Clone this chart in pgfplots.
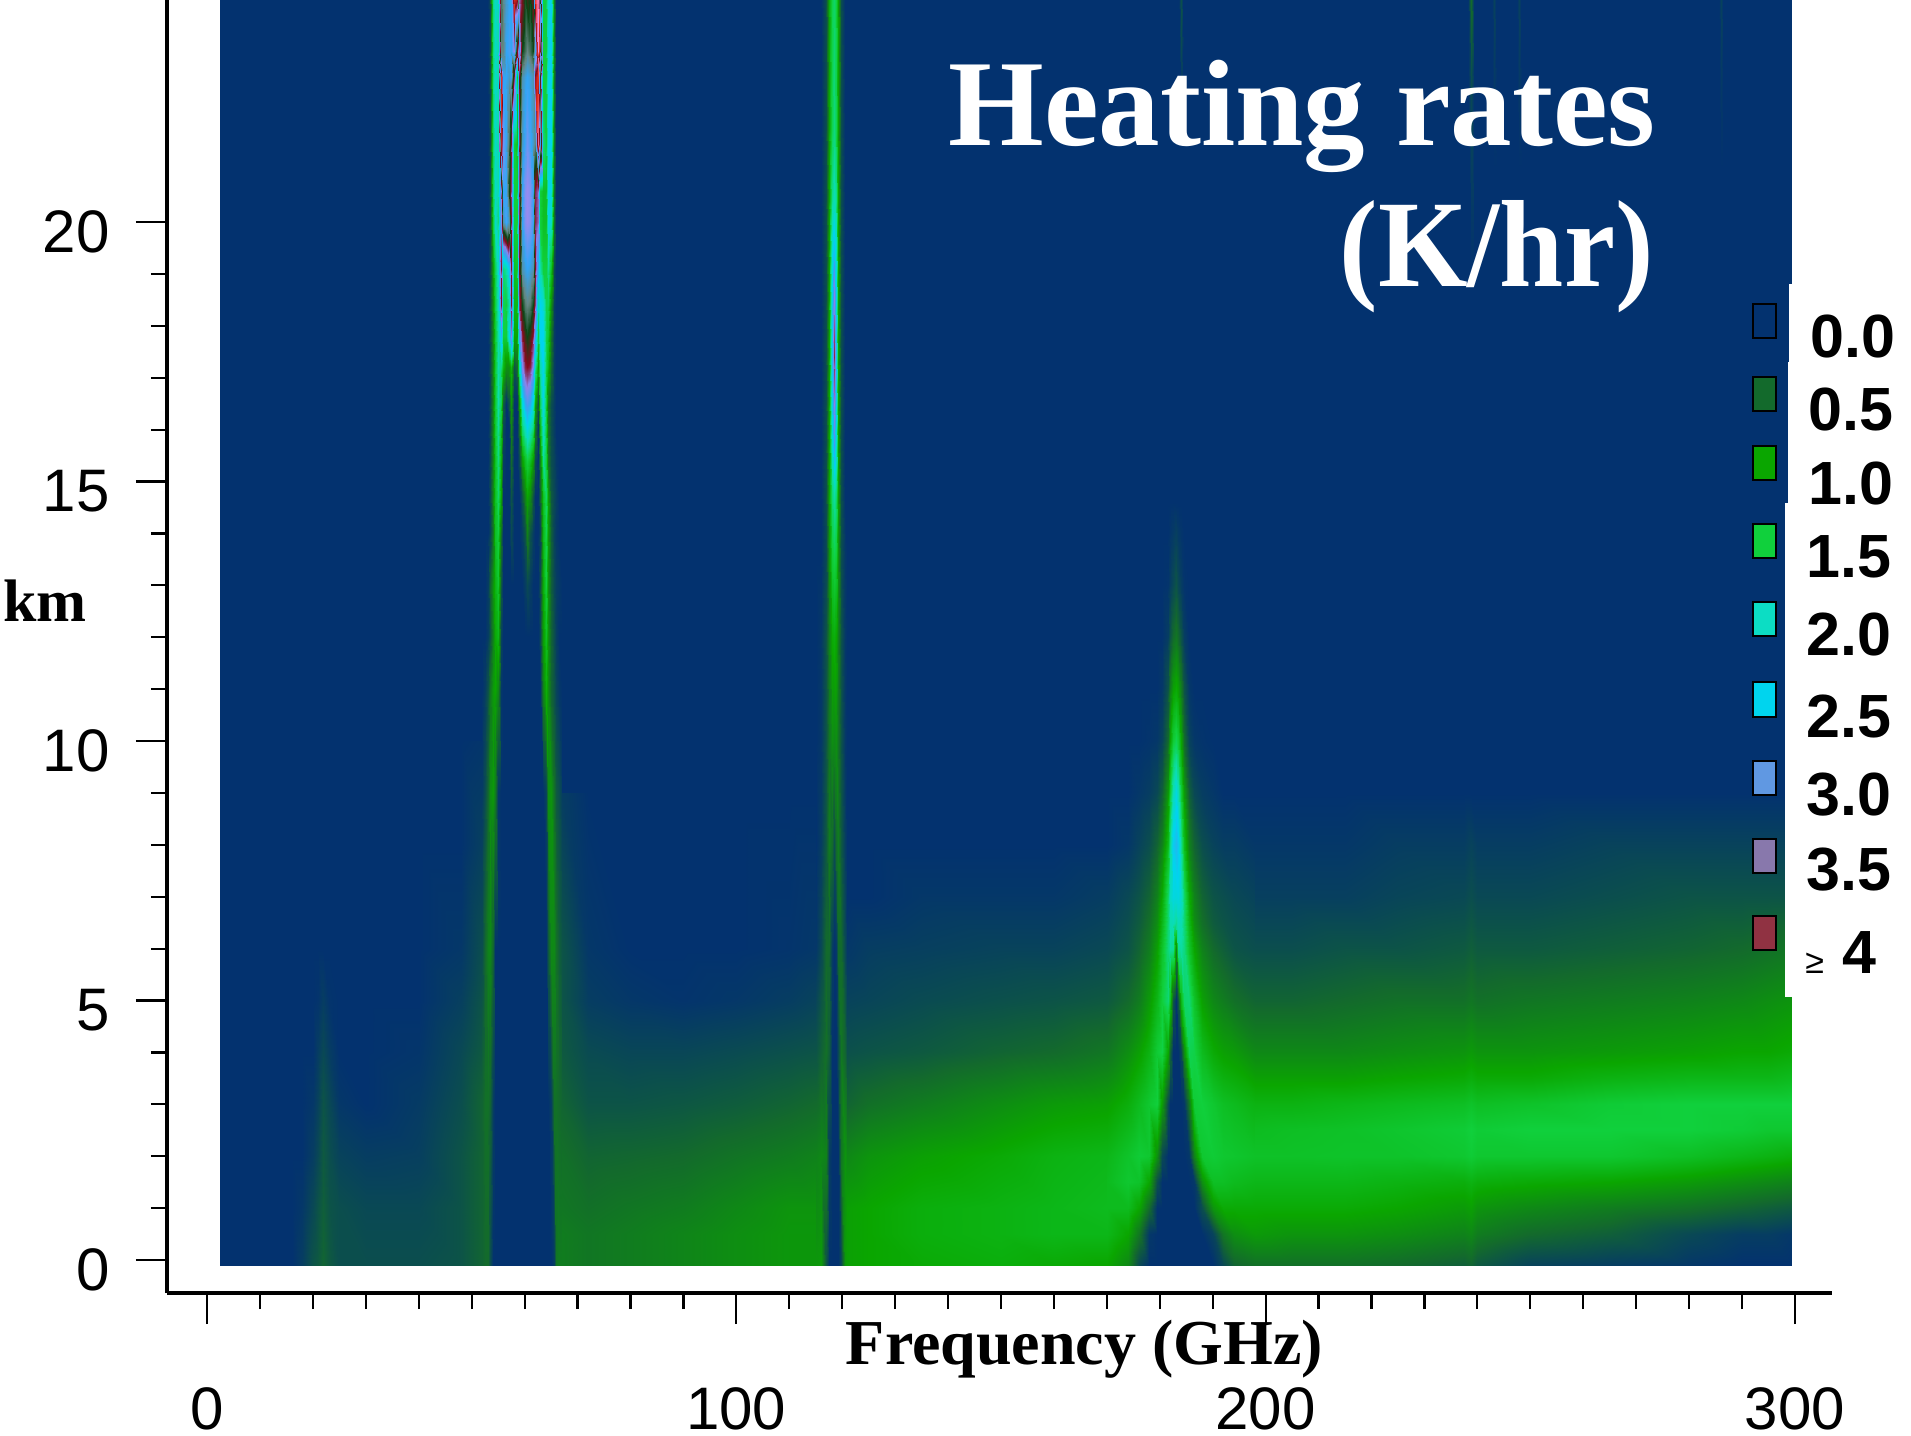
\documentclass[border=0pt]{standalone}
\usepackage{graphicx}
\usepackage{pgfplots}
\pgfplotsset{compat=1.18}
\usepackage{fontspec}
\setmainfont{Liberation Serif}
\newfontfamily\sansf{Liberation Sans}
\definecolor{hbg}{RGB}{3,50,111}
\makeatletter
\newcount\zi \newcount\zj
\def\zend{END}
\def\zapp#1{\g@addto@macro\zbuf{#1\\}}
\def\zadd#1 {\def\ztmp{#1}\ifx\ztmp\zend\else\ifx\ztmp\@empty\else
    \edef\ztmpb{\csname zx\the\zi\endcsname\space\csname zy\the\zj\endcsname\space #1}%
    \expandafter\zapp\expandafter{\ztmpb}%
    \global\advance\zi by 1 \ifnum\zi=\zn\relax\global\zi=0 \global\advance\zj by 1 \fi
  \fi\expandafter\zadd\fi}
\newcommand{\heatdo}[2]{\addplot[surf,shader=interp,mesh/cols=#2,point meta=explicit]
  table[header=false,row sep=crcr,x index=0,y index=1,meta index=2]{#1};}
\newcommand{\heat}[4]{\gdef\zbuf{}\global\zi=0 \global\zj=0 \def\zn{#1}%
  \foreach \v [count=\k from 0] in {#2}{\expandafter\xdef\csname zx\k\endcsname{\v}}%
  \foreach \v [count=\k from 0] in {#3}{\expandafter\xdef\csname zy\k\endcsname{\v}}%
  \zadd#4 END %
  \expandafter\heatdo\expandafter{\zbuf}{#1}}
\makeatother
\begin{document}
\begin{tikzpicture}[x=0.5pt,y=-0.5pt]
\path[use as bounding box] (0,0) rectangle (1911,1435);
\begin{axis}[
  at={(83.5pt,-646.5pt)},anchor=south west,
  scale only axis,width=832.5pt,height=646.5pt,
  xmin=-7.56,xmax=307,ymin=-0.636,ymax=24.28,
  axis x line=bottom,axis y line=left,
  axis line style={-,line width=1.7pt,black},
  tick align=outside,
  major tick length=15.5pt,minor tick length=8pt,
  tick style={line width=1.1pt,black},
  xtick={0,100,200,300},minor x tick num=9,
  ytick={0,5,10,15,20},minor y tick num=4,
  /pgf/number format/assume math mode=true,
  tick label style={font=\sansf\fontsize{30}{30}\selectfont,inner sep=0pt},
  xticklabel style={anchor=base,yshift=-52.5pt},
  yticklabel style={anchor=east,yshift=-5pt,xshift=-13pt},
  xlabel={\bfseries Frequency (GHz)},
  xlabel style={at={(axis description cs:0.551,-0.0549)},anchor=base,font=\fontsize{32}{32}\selectfont,inner sep=0pt},
  ylabel={\bfseries km},
  ylabel style={at={(axis description cs:-0.0733,0.519)},anchor=base,rotate=-90,font=\fontsize{30}{30}\selectfont,inner sep=0pt},
  colormap={hr}{[1pt]
    rgb255(0pt)=(3,50,111) rgb255(5pt)=(19,106,44) rgb255(10pt)=(10,166,0)
    rgb255(15pt)=(16,208,60) rgb255(20pt)=(12,221,170) rgb255(25pt)=(0,212,238)
    rgb255(30pt)=(60,160,240) rgb255(35pt)=(140,130,235) rgb255(40pt)=(135,10,30)
    rgb255(45pt)=(10,70,20) rgb255(50pt)=(100,135,130) rgb255(55pt)=(50,165,245)
    rgb255(60pt)=(150,140,240) rgb255(65pt)=(130,10,30) rgb255(70pt)=(240,50,30)
    rgb255(75pt)=(240,140,220) rgb255(80pt)=(250,230,240)},
  point meta min=0,point meta max=8,
]
% background
\heat{2}{2.5,299.4}{-.1,24.4}{0 0 0 0}
% left field, 2.5-52 GHz
\heat{13}{2.5,14,16,18,20,21,22,23,25,30,40,48,52}{-.1,1,2,3,4,5,6,8,10}{
0 0 0 .1 .3 .35 .45 .35 .25 .25 .25 .3 .45
0 0 0 .05 .2 .3 .4 .3 .25 .2 .2 .3 .45
0 0 0 0 .1 .2 .35 .25 .15 .1 .12 .3 .45
0 0 0 0 .05 .15 .3 .2 .05 0 .08 .25 .45
0 0 0 0 0 .1 .2 .1 0 0 .03 .2 .35
0 0 0 0 0 .02 .1 .02 0 0 0 .12 .3
0 0 0 0 0 0 0 0 0 0 0 .05 .25
0 0 0 0 0 0 0 0 0 0 0 0 .12
0 0 0 0 0 0 0 0 0 0 0 0 .03
}
% 60 GHz band
\heat{31}{52,52.5,53,53.5,54,54.5,55,55.5,56,56.5,57,57.5,58,58.5,59,59.5,60,60.5,61,61.5,62,62.5,63,63.5,64,64.5,65,65.5,66,66.5,67}{-.1,3,6,9,11,12,13,14,14.7,15.4,16,16.5,17.2,17.8,18.4,19.1,20,20.6,21.5,22.8,23.3,24.4}{
.45 .5 .5 .25 0 0 0 0 0 0  0 0 0 0 0 0 0 0 0 0  0 0 0 0 0 0 0 .1 .6 .65 .65
.45 .55 .55 .45 .1 0 0 0 0 0  0 0 0 0 0 0 0 0 0 0  0 0 0 0 0 0 .1 .55 .55 .5 .45
.25 .5 .7 .75 .45 0 0 0 0 0  0 0 0 0 0 0 0 0 0 0  0 0 0 0 0 .35 .75 .75 .55 .4 .3
.08 .25 .5 .8 .9 .65 .05 0 0 0  0 0 0 0 0 0 0 0 0 0  0 0 0 0 .15 .8 .85 .55 .35 .25 .1
0 .1 .3 .6 .9 1 .75 .05 0 0  0 0 0 0 0 0 0 0 0 0  0 0 0 .7 1.1 .8 .45 .3 .15 .05 0
0 0 .1 .3 .7 1.05 1.2 .15 0 0  0 0 0 0 0 0 0 0 0 0  0 0 .15 .9 1.3 .85 .45 .25 .1 0 0
0 0 .1 .45 .85 1.15 1.4 .35 0 0  0 0 0 0 0 0 .1 .2 .1 0  0 0 .25 1.05 1.5 .85 .4 .2 .1 .05 0
0 0 0 .15 .6 1.3 1.5 .55 0 0  0 .2 0 0 0 .1 .3 .7 .3 .1  0 0 .15 1.2 1.6 .95 .4 .15 .05 0 0
0 0 0 .2 .75 1.3 1.7 1 0 0  0 .3 0 0 0 .3 .7 1 .8 .3  0 0 .4 1.3 1.7 1 .35 .2 .1 0 0
0 0 0 .2 .75 1.3 1.8 1.1 .1 0  0 .5 0 0 .2 .9 1.3 1.5 1.3 .9  .2 0 .7 1.9 1.5 .6 .25 .15 .05 0 0
0 0 0 .2 .75 1.4 1.9 1.3 .2 0  0 .7 0 0 .5 1.7 2.1 2.4 2.1 1.7  .6 0 1.2 2.2 1.5 .6 .25 .1 0 0 0
0 0 0 .2 .75 1.4 2 1.6 .4 0  .3 .9 0 0 .9 2.3 2.9 3.1 2.9 2.3  1 .3 1.6 2.4 1.5 .6 .25 .1 0 0 0
0 0 0 .2 .75 1.4 2 1.8 1.2 .8  .8 1.2 .3 .5 2 3.4 3.9 4 3.9 3.4  2 1 2 2.5 1.6 1.2 .5 .1 0 0 0
0 0 0 .2 .75 1.4 2 2.8 1.5 1.5  2.5 3.5 1 1 3 3.9 4.3 4.5 4.3 3.9  3 1.5 2.5 2.5 1.6 1.4 .6 .1 0 0 0
0 0 0 .2 .85 1.5 2.1 4 1.6 1.5  2 4 1.2 1.2 3.8 4.5 4.9 5 4.9 4.5  3.8 2 2.5 2.3 1.6 1.6 .8 .1 0 0 0
0 0 0 .2 1 1.6 2.2 4 1.8 2  2.6 4 1.3 1.4 4 5.2 5.4 5.5 5.4 5.2  4 2.8 2 1.5 1.5 1.9 1.3 .2 0 0 0
0 0 0 .2 1.5 2.2 1.8 3.5 5.2 5.6  5.2 4 1.5 1.5 3.9 5.5 5.9 6 5.9 5.5  3.9 3.6 1.5 1.3 1.3 2.4 2.2 .5 0 0 0
0 0 0 .2 1.6 2.2 2 3.5 5.5 5.5  4.5 3.8 1.5 1.5 3.8 5.5 5.9 6 5.9 5.5  3.9 3.6 1.5 1.3 1.3 2.4 2.4 .5 0 0 0
0 0 0 .2 1.7 2.2 2 6.8 5.8 5.5  4.8 4 1.5 1.3 3.8 5.3 5.6 5.8 5.6 5.3  5 7.3 5.5 1.8 1.5 2.4 2.5 .6 0 0 0
0 0 0 .2 1.8 2.2 2 7 5.5 5.5  5.3 5.5 3.9 1.4 4 5.2 5.4 5.5 5.4 5.2  6.6 7 4.4 1.5 1.5 2.4 2.6 .6 0 0 0
0 0 0 .2 1.8 2.2 2 5 5 5.5  5.6 5.5 6 4 3 4.5 4.8 5 4.8 4.5  5.5 7.5 6.5 1.5 1.5 2.3 2.6 .7 0 0 0
0 0 0 .2 1.8 2.2 2.1 4.8 5 5.3  5.5 5.5 7.2 7 3.5 4 4.5 4.3 4.5 4  7 7.5 5 1.5 1.5 2.2 2.6 .7 0 0 0
}
% field 67-115 GHz
\heat{7}{67,72,80,90,100,110,115}{-.1,.5,1,2,3,4,5,6,9}{
.65 .6 .65 .72 .8 .87 .87
.65 .6 .65 .72 .8 .87 .87
.6 .55 .6 .65 .75 .85 .85
.55 .45 .47 .5 .58 .65 .7
.45 .3 .3 .33 .38 .45 .5
.35 .22 .18 .18 .22 .27 .3
.3 .1 .05 .02 .05 .1 .15
.3 .05 0 0 0 .02 .05
.1 0 0 0 0 0 0
}
% 118 GHz line
\heat{11}{115,116,117,117.5,118,118.4,118.8,119.3,119.8,120.5,121}{-.1,2,4,6,8,10,12,13.5,14.8,15.7,16.5,17.4,18.5,19.5,20.4,21.8,24.4}{
.87 .9 .3 0 0 0 0 0 .2 .9 .95
.7 .75 .7 .1 0 0 0 0 .6 .85 .75
.3 .42 .55 .4 0 0 0 .2 .6 .45 .27
.05 .2 .5 .5 .1 0 .05 .5 .5 .2 .05
0 .1 .35 .65 .5 .25 .5 .65 .35 .1 0
0 .05 .3 .6 .8 .75 .8 .6 .3 .05 0
0 .05 .3 .7 1.05 1.1 1 .7 .3 .05 0
0 0 .2 .85 1.45 1.55 1.45 .85 .25 .05 0
0 0 .25 1 1.8 2 1.8 1 .25 0 0
0 0 .25 1 2.3 3 2.3 1 .25 0 0
0 0 .25 1 2.6 3.5 2.6 1 .25 0 0
0 0 .25 1 2.7 3.9 2.7 1 .25 0 0
0 0 .25 1 2.6 3.5 2.6 1 .25 0 0
0 0 .25 1 2.3 2.7 2.3 1 .25 0 0
0 0 .25 1 1.9 2.1 1.9 1 .25 0 0
0 0 .25 1 1.6 1.8 1.6 1 .25 0 0
0 0 .25 1.05 1.55 1.7 1.55 1.05 .25 0 0
}
% field 121-170 GHz
\heat{6}{121,125,135,150,160,170}{-.1,.5,1,2,3,4,5,6,7,8}{
.95 1 1.05 1.1 1.05 1
.95 1 1.1 1.15 1.2 1.2
.95 1 1.1 1.15 1.2 1.25
.75 .85 .95 1.05 1.15 1.2
.45 .55 .65 .8 .9 .95
.27 .3 .35 .45 .5 .6
.15 .17 .22 .27 .3 .35
.05 .1 .12 .15 .15 .2
0 0 .05 .05 .05 .1
0 0 0 0 0 0
}
% 183 GHz line
\heat{20}{170,174,176,178,179.5,180.5,181.5,182,182.5,183,183.5,184,184.5,185.5,186.5,188,190,192,194,198}{-.1,.5,1,1.5,2,3,4,5,6,6.5,7,8,9,10,11,12,13,14,14.6}{
1 .75 .2 0 0 0 0 0 0 0 0 0 0 0 0 0 0 .2 .45 .55
1.2 1 .6 .05 0 0 0 0 0 0 0 0 0 0 0 0 .15 .6 .8 .9
1.25 1.25 1 .5 0 0 0 0 0 0 0 0 0 0 0 .25 .85 1.05 1.05 1.05
1.25 1.4 1.35 1 .25 0 0 0 0 0 0 0 0 0 .05 .8 1.3 1.3 1.25 1.2
1.2 1.35 1.45 1.4 .8 .2 0 0 0 0 0 0 0 .05 .7 1.4 1.45 1.4 1.38 1.33
.95 1.1 1.25 1.4 1.5 .9 .2 0 0 0 0 0 .05 .6 1.45 1.5 1.4 1.3 1.25 1.15
.6 .8 .95 1.15 1.45 1.55 1 .45 0 0 0 .2 .8 1.6 1.55 1.25 1.05 .95 .9 .75
.35 .5 .65 .9 1.2 1.5 1.75 1.3 .3 0 .3 1.2 1.7 1.75 1.35 .95 .75 .65 .55 .45
.2 .3 .45 .65 .95 1.35 1.8 1.95 1.9 .7 1.9 1.95 1.8 1.35 1 .7 .5 .4 .3 .25
.15 .25 .37 .55 .8 1.2 1.75 2.05 2.1 1.9 2.1 2.05 1.75 1.2 .8 .55 .37 .3 .25 .2
.1 .2 .3 .45 .7 1.05 1.7 2.2 2.4 2.35 2.4 2.2 1.7 1.05 .7 .45 .3 .25 .2 .15
0 .05 .15 .25 .45 .7 1.25 1.9 2.6 2.75 2.6 1.9 1.25 .7 .45 .25 .15 .1 .1 .05
0 0 .05 .1 .2 .4 .9 1.45 2.1 2.4 2.1 1.45 .9 .4 .2 .1 .05 0 0 0
0 0 0 .02 .05 .15 .5 1 1.45 1.6 1.45 1 .5 .15 .05 .02 0 0 0 0
0 0 0 0 0 .05 .3 .65 .95 1.05 .95 .65 .3 .05 0 0 0 0 0 0
0 0 0 0 0 0 .1 .3 .5 .6 .5 .3 .1 0 0 0 0 0 0 0
0 0 0 0 0 0 .02 .1 .2 .3 .2 .1 .02 0 0 0 0 0 0 0
0 0 0 0 0 0 0 .03 .07 .12 .07 .03 0 0 0 0 0 0 0 0
0 0 0 0 0 0 0 0 0 0 0 0 0 0 0 0 0 0 0 0
}
% field 198-299 GHz
\heat{13}{198,205,215,225,237.5,238.8,240,250,265,280,290,295,299.4}{-.1,.5,1,1.5,2,2.5,3,3.5,4,5,6,7,8,9}{
.55 .55 .55 .5 .4 .45 .35 .15 .1 .05 0 0 0
.9 .85 .85 .8 .7 .75 .65 .5 .4 .2 .1 .1 .05
1.05 1.05 1.05 1 .9 .95 .85 .75 .65 .55 .45 .4 .35
1.2 1.2 1.2 1.15 1.1 1.15 1.1 1.05 1 .9 .8 .75 .7
1.33 1.33 1.35 1.35 1.4 1.45 1.4 1.4 1.4 1.3 1.2 1.15 1.1
1.27 1.3 1.33 1.38 1.45 1.5 1.45 1.5 1.5 1.5 1.45 1.4 1.4
1.15 1.15 1.2 1.25 1.3 1.35 1.3 1.35 1.45 1.5 1.5 1.5 1.5
.95 .95 .95 1 1.05 1.1 1.05 1.05 1.15 1.2 1.2 1.2 1.25
.75 .75 .75 .8 .85 .9 .85 .85 .9 .95 1 1 1.05
.45 .45 .5 .55 .55 .6 .55 .6 .65 .7 .75 .8 .85
.25 .25 .3 .3 .35 .4 .35 .35 .4 .45 .5 .55 .6
.12 .12 .12 .17 .2 .25 .2 .2 .25 .3 .3 .3 .3
.05 .05 .05 .1 .1 .15 .1 .1 .15 .15 .15 .15 .15
0 0 0 0 0 0 0 0 0 0 0 0 0
}
% faint lines at the top
\heat{3}{183.6,184,184.4}{22.5,23.3,24.4}{0 0 0 0 .2 0 0 .3 0}
\heat{3}{238.3,238.8,239.3}{19,22.5,24.4}{0 0 0 0 .2 0 0 .55 0}
\heat{3}{242.8,243.2,243.6}{21,22.5,24.4}{0 0 0 0 .06 0 0 .15 0}
\heat{3}{247.5,247.9,248.3}{21,22.5,24.4}{0 0 0 0 .06 0 0 .15 0}
\heat{3}{285.6,286,286.4}{21,22.5,24.4}{0 0 0 0 .06 0 0 .15 0}
\end{axis}
% white strip behind the legend labels
\fill[white] (1789,284) rectangle (1911,362);
\fill[white] (1788,362) rectangle (1911,503);
\fill[white] (1785,503) rectangle (1911,997);
% legend swatches
\foreach \a/\b/\c in {304/338/hbg}{\filldraw[draw=black,line width=1.3pt,fill=\c] (1753,\a) rectangle (1776,\b);}
\definecolor{l1}{RGB}{19,106,44}\definecolor{l2}{RGB}{10,166,0}\definecolor{l3}{RGB}{16,208,60}
\definecolor{l4}{RGB}{12,221,196}\definecolor{l5}{RGB}{0,212,238}\definecolor{l6}{RGB}{96,152,226}
\definecolor{l7}{RGB}{136,120,172}\definecolor{l8}{RGB}{144,50,66}
\foreach \a/\b/\c in {377/411/l1,446/480/l2,524/558/l3,602/636/l4,682/717/l5,761/795/l6,839/873/l7,916/950/l8}{\filldraw[draw=black,line width=1.3pt,fill=\c] (1753,\a) rectangle (1776,\b);}
% legend labels
\foreach \x/\y/\t in {1810/357/0.0,1808/430/0.5,1808/504/1.0,1806/577/1.5,1806/655/2.0,1806/737/2.5,1806/815/3.0,1806/890/3.5,1842/973/4}
  {\node[anchor=base west,inner sep=0pt,font=\sansf\bfseries\fontsize{30.5}{30.5}\selectfont] at (\x,\y) {\t};}
\node[anchor=base west,inner sep=0pt,font=\sansf\fontsize{17}{17}\selectfont] at (1805,973) {≥};
% title
\node[anchor=base east,inner sep=0pt,text=white,font=\bfseries\fontsize{61.5}{62}\selectfont] at (1656,145) {Heating rates};
\node[anchor=base east,inner sep=0pt,text=white,font=\bfseries\fontsize{62}{62}\selectfont] at (1654,286) {\scalebox{0.93}[1]{(K/hr)}};
\end{tikzpicture}
\end{document}
